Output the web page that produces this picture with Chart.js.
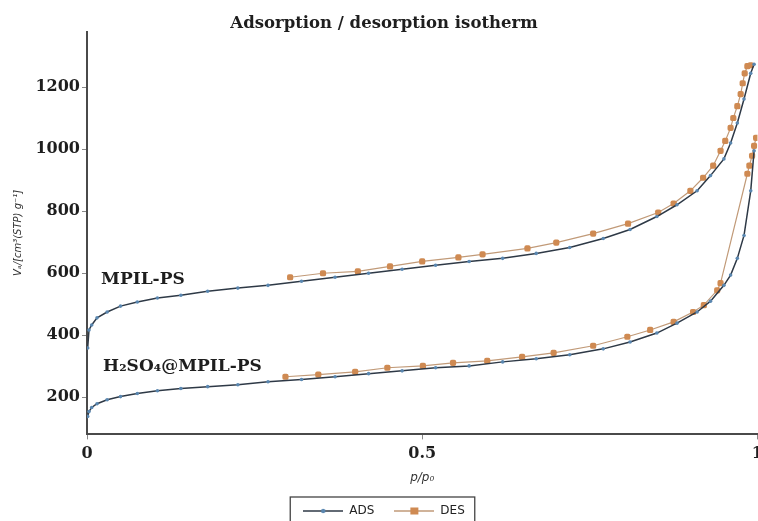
<!DOCTYPE html>
<html>
<head>
    <style>
        body { margin: 0; background: #fff; overflow: hidden; }
        /* canvas is a little wider than the window so the x axis runs to the edge */
        #wrap { width: 758px; height: 521px; overflow: hidden; }
        #box { width: 768px; height: 521px; position: relative; }
    </style>
    <script src="https://cdn.jsdelivr.net/npm/chart.js"></script>
</head>
<body>
    <div id="wrap"><div id="box"><canvas id="chart"></canvas></div></div>
    <script>
        // relative pressure p/p0 of the adsorption branch
        const adsPressure = [0.001, 0.003, 0.007, 0.015, 0.03, 0.05, 0.075, 0.105, 0.14, 0.18, 0.225, 0.27,
            0.32, 0.37, 0.42, 0.47, 0.52, 0.57, 0.62, 0.67, 0.72, 0.77, 0.81, 0.85, 0.88, 0.91, 0.93,
            0.95, 0.96, 0.97, 0.98, 0.99, 0.995];
        // adsorbed volume, cm3(STP)/g
        const adsMpil = [359, 417, 433, 456, 475, 494, 507, 520, 529, 542, 552, 561,
            574, 587, 600, 613, 626, 638, 648, 664, 683, 712, 741, 783, 821, 866, 915,
            969, 1020, 1085, 1162, 1245, 1274];
        const adsAcid = [138, 154, 167, 179, 192, 202, 212, 221, 228, 234, 240, 250,
            257, 266, 276, 285, 295, 301, 314, 324, 337, 356, 378, 407, 439, 475, 510,
            561, 594, 648, 722, 866, 995];

        // desorption branches
        const desPressureMpil = [0.99, 0.985, 0.981, 0.978, 0.975, 0.97, 0.964, 0.96, 0.952, 0.945, 0.934,
            0.919, 0.9, 0.875, 0.852, 0.807, 0.755, 0.7, 0.657, 0.59, 0.554, 0.5, 0.452, 0.404, 0.352, 0.303];
        const desMpil = [1271, 1268, 1245, 1213, 1178, 1139, 1101, 1069, 1027, 995, 947,
            908, 866, 825, 796, 760, 728, 699, 680, 661, 651, 638, 622, 606, 600, 587];
        const desPressureAcid = [0.998, 0.995, 0.992, 0.988, 0.985, 0.945, 0.94, 0.92, 0.904, 0.875, 0.84,
            0.806, 0.755, 0.696, 0.649, 0.597, 0.546, 0.501, 0.448, 0.4, 0.345, 0.296];
        const desAcid = [1037, 1011, 979, 947, 921, 568, 545, 497, 475, 443, 417,
            395, 366, 343, 330, 317, 311, 301, 295, 282, 273, 266];

        const xTickValues = [0, 0.5, 1];
        const yTickValues = [200, 400, 600, 800, 1000, 1200];

        // sample names written beside the curves (data coordinates)
        const sampleNames = ['MPIL-PS', 'H₂SO₄@MPIL-PS'];
        const sampleNameX = [0.021, 0.024];
        const sampleNameY = [578, 298];

        const adsLine = '#2e3946';
        const adsDot = '#5a87b0';
        const desLine = '#c19a78';
        const desDot = '#cf8a52';

        function toPoints(xs, ys) {
            return xs.map((x, i) => ({ x: x, y: ys[i] }));
        }

        // little "line with marker" pictures for the legend
        function legendIcon(lineColor, dotColor, square) {
            const c = document.createElement('canvas');
            c.width = 40; c.height = 10;
            const g = c.getContext('2d');
            g.strokeStyle = lineColor;
            g.lineWidth = 1.5;
            g.beginPath(); g.moveTo(0, 5); g.lineTo(40, 5); g.stroke();
            g.fillStyle = dotColor;
            if (square) {
                g.fillRect(16, 1.5, 8, 7);
            } else {
                g.beginPath(); g.arc(20, 5, 2.2, 0, Math.PI * 2); g.fill();
            }
            return c;
        }
        const legendIcons = [legendIcon(adsLine, adsDot, false), legendIcon(desLine, desDot, true)];

        const adsStyle = {
            borderColor: adsLine, borderWidth: 1.5, backgroundColor: adsDot,
            pointRadius: 1.8, pointBorderWidth: 0, pointBackgroundColor: adsDot, order: 1
        };
        const desStyle = {
            borderColor: desLine, borderWidth: 1.2, backgroundColor: desDot,
            pointStyle: 'rectRounded', pointRadius: 3.6, pointBorderWidth: 0, pointBackgroundColor: desDot, order: 2
        };

        const legendFrame = {
            id: 'legendFrame',
            afterDraw(chart) {
                const boxes = chart.legend.legendHitBoxes;
                if (!boxes || !boxes.length) return;
                const left = Math.min(...boxes.map(b => b.left)) - 13;
                const right = Math.max(...boxes.map(b => b.left + b.width)) + 10;
                const top = Math.min(...boxes.map(b => b.top)) - 8;
                const bottom = Math.max(...boxes.map(b => b.top + b.height)) + 10;
                const ctx = chart.ctx;
                ctx.save();
                ctx.strokeStyle = '#444';
                ctx.lineWidth = 1.3;
                ctx.strokeRect(left, top, right - left, bottom - top);
                ctx.restore();
            }
        };

        const curveNames = {
            id: 'curveNames',
            afterDatasetsDraw(chart) {
                const ctx = chart.ctx;
                const xs = chart.scales.x, ys = chart.scales.y;
                ctx.save();
                ctx.fillStyle = '#1e1e1e';
                ctx.font = 'bold 17px "DejaVu Serif"';
                ctx.textBaseline = 'middle';
                sampleNames.forEach((name, i) => {
                    ctx.fillText(name, xs.getPixelForValue(sampleNameX[i]), ys.getPixelForValue(sampleNameY[i]));
                });
                ctx.restore();
            }
        };

        new Chart(document.getElementById('chart'), {
            type: 'line',
            data: {
                datasets: [
                    Object.assign({ label: 'ADS', data: toPoints(adsPressure, adsMpil) }, adsStyle),
                    Object.assign({ label: 'DES', data: toPoints(desPressureMpil, desMpil) }, desStyle),
                    Object.assign({ label: 'ADS', data: toPoints(adsPressure, adsAcid) }, adsStyle),
                    Object.assign({ label: 'DES', data: toPoints(desPressureAcid, desAcid) }, desStyle)
                ]
            },
            options: {
                responsive: true,
                maintainAspectRatio: false,
                animation: false,
                layout: { padding: { left: 0, right: 0, top: 0, bottom: -6 } },
                plugins: {
                    tooltip: { enabled: false },
                    title: {
                        display: true,
                        text: 'Adsorption / desorption isotherm',
                        color: '#1e1e1e',
                        font: { family: 'DejaVu Serif', weight: 'bold', size: 16.5, lineHeight: 1 },
                        padding: { top: 15, bottom: 0 }
                    },
                    legend: {
                        position: 'bottom',
                        labels: {
                            usePointStyle: true,
                            pointStyleWidth: 40,
                            padding: 20,
                            color: '#222',
                            font: { family: 'DejaVu Sans', size: 12 },
                            filter: item => item.datasetIndex < 2,
                            generateLabels(chart) {
                                const items = Chart.defaults.plugins.legend.labels.generateLabels(chart);
                                items.forEach(item => {
                                    if (item.datasetIndex < 2) item.pointStyle = legendIcons[item.datasetIndex];
                                });
                                return items;
                            }
                        }
                    }
                },
                elements: { line: { tension: 0 } },
                scales: {
                    x: {
                        type: 'linear',
                        min: 0,
                        max: 1,
                        afterBuildTicks: scale => { scale.ticks = xTickValues.map(v => ({ value: v })); },
                        border: { color: '#4a4a4a', width: 2 },
                        grid: { drawOnChartArea: false, color: '#888', tickLength: 5 },
                        ticks: {
                            color: '#1e1e1e', padding: 5,
                            font: { family: 'DejaVu Serif', weight: 'bold', size: 16 },
                            callback: value => String(value)
                        },
                        title: {
                            display: true,
                            text: 'p/p₀',
                            color: '#333',
                            font: { family: 'DejaVu Sans', style: 'italic', size: 12 },
                            padding: { top: 2, bottom: 0 }
                        }
                    },
                    y: {
                        type: 'linear',
                        min: 80,
                        max: 1380,
                        afterBuildTicks: scale => { scale.ticks = yTickValues.map(v => ({ value: v })); },
                        afterFit: scale => { scale.width = 87; },
                        border: { color: '#4a4a4a', width: 2 },
                        grid: { drawOnChartArea: false, color: '#888', tickLength: 5 },
                        ticks: {
                            color: '#1e1e1e', padding: 2,
                            font: { family: 'DejaVu Serif', weight: 'bold', size: 16 },
                            callback: value => String(value)
                        },
                        title: {
                            display: true,
                            text: 'Vₐ/[cm³(STP) g⁻¹]',
                            color: '#333',
                            font: { family: 'DejaVu Sans', style: 'italic', size: 10 },
                            padding: { top: 12, bottom: 0 }
                        }
                    }
                }
            },
            plugins: [legendFrame, curveNames]
        });
    </script>
</body>
</html>
